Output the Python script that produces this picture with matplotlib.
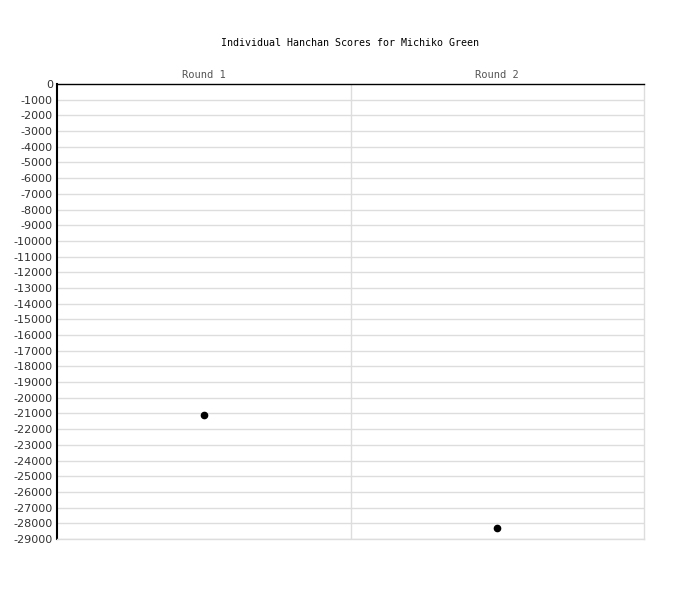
import numpy as np
import matplotlib.pyplot as plt

rounds = ['Round 1', 'Round 2']
scores = [-21100, -28300]
y_ticks = list(range(0, -30000, -1000))

fig = plt.figure(figsize=(7, 6), dpi=100)
ax = fig.add_axes([57 / 700, 61 / 600, 587 / 700, 455 / 600])

x = np.arange(len(rounds)) + 0.5
ax.plot(x, scores, 'o', color='black', markersize=4.5, linestyle='none', zorder=3)

ax.set_xlim(0, len(rounds))
ax.set_ylim(-29000, 0)
ax.set_yticks(y_ticks)
ax.set_yticklabels([str(v) for v in y_ticks], fontsize=8, color='#333333')
ax.set_xticks(x)
ax.set_xticklabels(rounds, fontsize=7.5, color='#555555', family='DejaVu Sans Mono')
ax.xaxis.tick_top()
ax.tick_params(axis='both', length=0, pad=3)

for yv in y_ticks[1:]:
    ax.axhline(yv, color='#dddddd', linewidth=1, zorder=1)
for xv in range(1, len(rounds)):
    ax.axvline(xv, color='#dddddd', linewidth=1, zorder=1)

ax.spines['left'].set_color('black')
ax.spines['top'].set_color('black')
ax.spines['right'].set_color('#dddddd')
ax.spines['bottom'].set_color('#dddddd')
for s in ax.spines.values():
    s.set_linewidth(1)
ax.spines['left'].set_linewidth(1.5)

fig.text(350 / 700, 1 - 43 / 600, 'Individual Hanchan Scores for Michiko Green',
         ha='center', va='center', fontsize=7.2, family='DejaVu Sans Mono')

fig.savefig('out.png', dpi=100)
